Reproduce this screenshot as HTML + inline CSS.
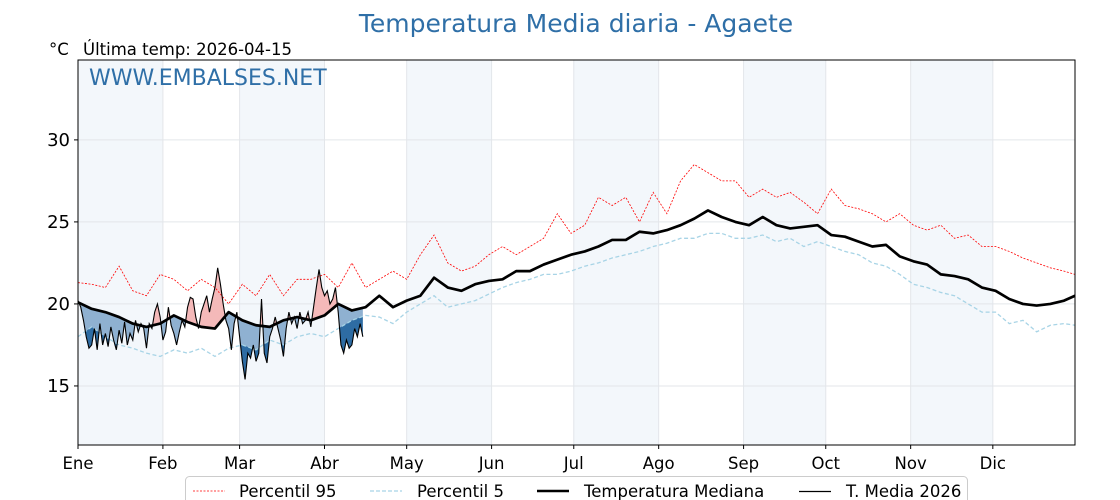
<!DOCTYPE html>
<html><head><meta charset="utf-8"><style>
html,body{margin:0;padding:0;background:#fff;}
svg{display:block;font-family:"DejaVu Sans","Liberation Sans",sans-serif;}
</style></head><body>
<svg id="chart" width="1120" height="500" viewBox="0 0 1120 500">
<text x="576" y="32" text-anchor="middle" font-size="25" fill="#2f6fa7">Temperatura Media diaria - Agaete</text>
<text x="49" y="55" font-size="16.5" fill="#000">°C</text>
<text x="83" y="55" font-size="16.5" fill="#000">Última temp: 2026-04-15</text>
<g id="bands"></g>
<g id="grid"></g>
<g id="fills"></g>
<g id="lines"></g>
<rect x="78" y="60" width="997" height="385" fill="none" stroke="#000" stroke-width="1"/>
<text x="89" y="85" font-size="22" fill="#2f6fa7">WWW.EMBALSES.NET</text>
<g id="yticks"></g>
<g id="xticks"></g>
<g>
<rect x="185.5" y="476.5" width="782" height="34" rx="4" fill="#fff" stroke="#ccc"/>
<line x1="193" y1="491" x2="225" y2="491" stroke="#ff0000" stroke-width="0.8" stroke-dasharray="2,1.5"/>
<text x="239" y="497" font-size="16.5">Percentil 95</text>
<line x1="370" y1="491" x2="402" y2="491" stroke="#a8d4e6" stroke-width="1.2" stroke-dasharray="4,2"/>
<text x="417" y="497" font-size="16.5">Percentil 5</text>
<line x1="537" y1="491" x2="569" y2="491" stroke="#000" stroke-width="2.5"/>
<text x="584" y="497" font-size="16.5">Temperatura Mediana</text>
<line x1="799" y1="491.5" x2="831" y2="491.5" stroke="#000" stroke-width="1.2"/>
<text x="846" y="497" font-size="16.5">T. Media 2026</text>
</g>
</svg>
<script>
const monthLabels=["Ene","Feb","Mar","Abr","May","Jun","Jul","Ago","Sep","Oct","Nov","Dic"];
const monthStartDays=[0,31,59,90,120,151,181,212,243,273,304,334];
const yTicks=[15,20,25,30];
const sampleStep=5;
const p95=[21.3,21.2,21.0,22.3,20.8,20.5,21.8,21.5,20.8,21.5,21.0,20.0,21.2,20.5,21.8,20.5,21.5,21.5,21.8,21.0,22.5,21.0,21.5,22.0,21.5,23.0,24.2,22.5,22.0,22.3,23.0,23.5,23.0,23.5,24.0,25.5,24.3,24.8,26.5,26.0,26.5,25.0,26.8,25.5,27.5,28.5,28.0,27.5,27.5,26.5,27.0,26.5,26.8,26.2,25.5,27.0,26.0,25.8,25.5,25.0,25.5,24.8,24.5,24.8,24.0,24.2,23.5,23.5,23.2,22.8,22.5,22.2,22.0,21.8];
const p5=[18.0,18.6,18.0,17.5,17.3,17.0,16.8,17.2,17.0,17.3,16.8,17.3,17.5,17.2,17.8,17.5,18.0,18.2,18.0,18.5,19.0,19.3,19.2,18.8,19.5,20.0,20.5,19.8,20.0,20.2,20.6,21.0,21.3,21.5,21.8,21.8,22.0,22.3,22.5,22.8,23.0,23.2,23.5,23.7,24.0,24.0,24.3,24.3,24.0,24.0,24.2,23.8,24.0,23.5,23.8,23.5,23.2,23.0,22.5,22.3,21.8,21.2,21.0,20.7,20.5,20.0,19.5,19.5,18.8,19.0,18.3,18.7,18.8,18.7];
const median=[20.1,19.7,19.5,19.2,18.8,18.6,18.8,19.3,18.9,18.6,18.5,19.5,19.0,18.7,18.6,19.0,19.2,19.0,19.3,20.0,19.6,19.8,20.5,19.8,20.2,20.5,21.6,21.0,20.8,21.2,21.4,21.5,22.0,22.0,22.4,22.7,23.0,23.2,23.5,23.9,23.9,24.4,24.3,24.5,24.8,25.2,25.7,25.3,25.0,24.8,25.3,24.8,24.6,24.7,24.8,24.2,24.1,23.8,23.5,23.6,22.9,22.6,22.4,21.8,21.7,21.5,21.0,20.8,20.3,20.0,19.9,20.0,20.2,20.5];
const t2026=[20.2,19.8,19.0,18.0,17.3,17.5,18.5,17.2,18.8,17.5,
18.2,17.4,18.6,17.8,17.2,18.4,17.6,18.9,17.5,18.2,
17.8,19.0,18.3,18.8,18.5,17.3,18.8,18.5,19.5,20.0,
19.2,17.8,18.3,19.8,18.7,18.2,17.5,18.3,19.0,18.6,
19.8,20.4,20.3,19.2,18.5,19.5,20.0,20.5,19.5,20.3,
21.0,22.2,21.2,20.0,19.0,18.5,17.2,18.8,19.5,18.0,
16.5,15.4,17.0,16.7,17.5,16.5,17.0,20.3,17.0,16.4,
18.0,18.5,19.2,18.5,17.8,16.8,18.5,19.5,18.8,19.2,
18.5,19.5,18.8,19.0,19.5,18.6,19.8,21.0,22.1,21.0,
20.5,20.8,20.0,20.3,21.0,19.5,17.5,17.0,17.8,17.3,
17.5,18.5,18.0,18.8,18.0];

const NS="http://www.w3.org/2000/svg";
const X0=78,X1=1075,Y0=60,Y1=445,YMIN=11.4,YMAX=34.87,DAYS=364;
function xs(d){return X0+(d/DAYS)*(X1-X0);}
function ys(v){return Y1-(v-YMIN)/(YMAX-YMIN)*(Y1-Y0);}
function mk(tag,attrs,parent){const e=document.createElementNS(NS,tag);for(const k in attrs)e.setAttribute(k,attrs[k]);parent.appendChild(e);return e;}
function at(arr,d){const i=d/sampleStep;const a=Math.floor(i),b=Math.min(a+1,arr.length-1);const f=i-a;return arr[a]*(1-f)+arr[b]*f;}

const bands=document.getElementById('bands');
for(let m=0;m<12;m+=2){
  const r=mk('rect',{x:xs(monthStartDays[m]),y:Y0,width:xs(monthStartDays[m+1])-xs(monthStartDays[m]),height:Y1-Y0,fill:'#f3f7fb'},bands);
  
  
}
const grid=document.getElementById('grid');
yTicks.forEach(v=>{const l=mk('line',{x1:X0,x2:X1,y1:ys(v),y2:ys(v),stroke:'#e3e6ea','stroke-width':1},grid);
  
  });
monthStartDays.forEach(d=>{const l=mk('line',{x1:xs(d),x2:xs(d),y1:Y0,y2:Y1,stroke:'#e3e6ea','stroke-width':1},grid);
  
  });

const fills=document.getElementById('fills');
const sub=[];for(let k=0;k<=(t2026.length-1)*4;k++)sub.push(k/4);
const tv=d=>{const a=Math.floor(d),b=Math.min(a+1,t2026.length-1),f=d-a;return t2026[a]*(1-f)+t2026[b]*f;};
function polyD(up,lo,color,name){
  let pts=[];
  sub.forEach(d=>pts.push(xs(d)+','+ys(up(d))));
  for(let i=sub.length-1;i>=0;i--)pts.push(xs(sub[i])+','+ys(lo(sub[i])));
  const p=mk('polygon',{points:pts.join(' '),fill:color,stroke:'none'},fills);
  
  
}
polyD(d=>Math.max(tv(d),at(median,d)),d=>at(median,d),'#f4b9b9','above-median-fill');
polyD(d=>at(median,d),d=>Math.min(at(median,d),Math.max(tv(d),at(p5,d))),'#8fb1d1','below-median-fill');
polyD(d=>Math.min(at(median,d),at(p5,d)),d=>Math.min(at(median,d),at(p5,d),tv(d)),'#2e6ca3','below-p5-fill');

const lines=document.getElementById('lines');
function pl(arr,step,attrs,name){
  const pts=arr.map((v,i)=>xs(Math.min(i*step,DAYS))+','+ys(v)).join(' ');
  const p=mk('polyline',Object.assign({points:pts,fill:'none'},attrs),lines);
  
  
}
pl(p95,sampleStep,{stroke:'#ff0000','stroke-width':0.8,'stroke-dasharray':'2,1.5'},'p95-line');
pl(p5,sampleStep,{stroke:'#a8d4e6','stroke-width':1.3,'stroke-dasharray':'4,2.5'},'p5-line');
pl(median,sampleStep,{stroke:'#000','stroke-width':2.7,'stroke-linejoin':'round'},'median-line');
pl(t2026,1,{stroke:'#000','stroke-width':1.1},'t2026-line');

const yt=document.getElementById('yticks');
yTicks.forEach(v=>{
  const l=mk('line',{x1:X0-4,x2:X0,y1:ys(v),y2:ys(v),stroke:'#000'},yt);
  
  
  const t=mk('text',{x:70,y:ys(v)+6,'text-anchor':'end','font-size':18},yt);t.textContent=v;
  
  
});
const xt=document.getElementById('xticks');
monthLabels.forEach((m,i)=>{
  const x=xs(monthStartDays[i]);
  const l=mk('line',{x1:x,x2:x,y1:Y1,y2:Y1+4,stroke:'#000'},xt);
  
  
  const t=mk('text',{x:x,y:469,'text-anchor':'middle','font-size':16.5},xt);t.textContent=m;
  
  
});
</script>
</body></html>
